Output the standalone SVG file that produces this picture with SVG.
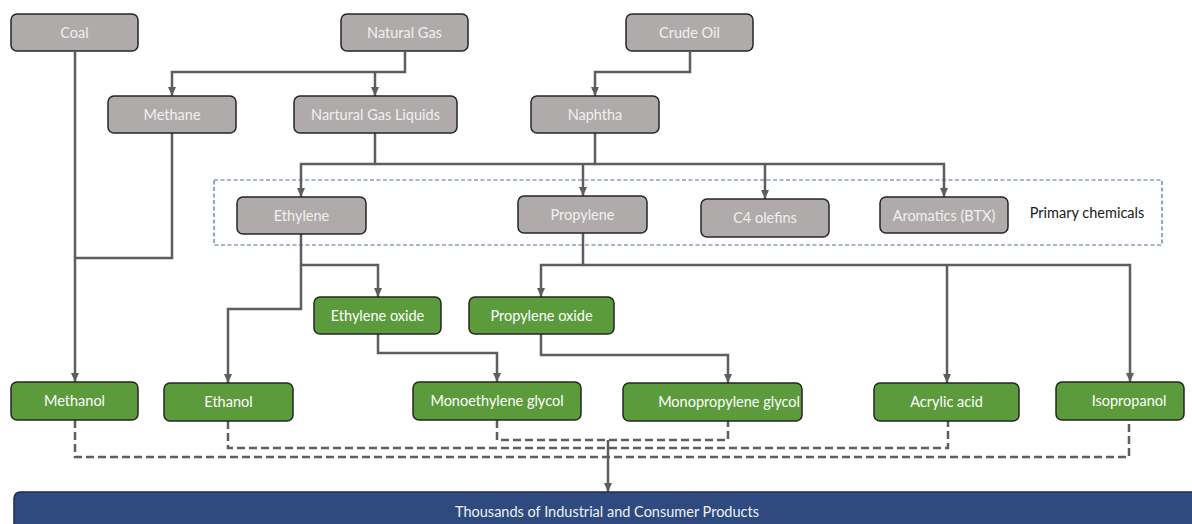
<svg xmlns="http://www.w3.org/2000/svg" width="1192" height="524" viewBox="0 0 1192 524">
<defs>
<style>
.g rect{fill:#AFABAB;stroke:#262626;stroke-width:1.5}
.gr rect{fill:#5B9B3B;stroke:#262626;stroke-width:1.5}
text{font-family:Lato,"Open Sans","Liberation Sans",sans-serif;font-size:14.5px;text-anchor:middle}
.g text{fill:#F0F0F0}
.gr text{fill:#FFFFFF}
.c path{fill:none;stroke:#5E5E5E;stroke-width:2.5}
.c path.a{marker-end:url(#ah)}
.c path.d{stroke-dasharray:8 4;stroke-width:2.5}
</style>
<marker id="ah" markerUnits="userSpaceOnUse" markerWidth="10" markerHeight="10" refX="9" refY="5" orient="auto">
<path d="M0,1 L9,5 L0,9 Z" fill="#5E5E5E"/>
</marker>
</defs>
<rect width="1192" height="524" fill="#FFFFFF"/>
<rect x="214" y="180" width="948" height="65" fill="none" stroke="#4A6AA5" stroke-width="1.2" stroke-dasharray="4 2.5"/>
<text x="1087" y="218" style="fill:#1A1A1A">Primary chemicals</text>
<g class="c">
<path class="a" d="M75 52 V382"/>
<path d="M172 133 V258 H75"/>
<path class="a" d="M405 52 V72 H172 V96"/>
<path class="a" d="M375 72 V96"/>
<path class="a" d="M690 52 V72 H595 V96"/>
<path class="a" d="M375 133 V164 H301 V197"/>
<path d="M375 164 H595"/>
<path class="a" d="M595 133 V164 H944 V197"/>
<path class="a" d="M583 164 V196"/>
<path class="a" d="M765 164 V199"/>
<path class="a" d="M301 234 V265 H378 V297"/>
<path class="a" d="M301 265 V309 H228 V383"/>
<path class="a" d="M583 233 V265 H541 V297"/>
<path class="a" d="M583 265 H1130 V382"/>
<path class="a" d="M947 265 V383"/>
<path class="a" d="M378 334 V353 H497 V382"/>
<path class="a" d="M541 334 V355 H728 V383"/>
<path class="d" d="M75 420 V457 H1129 V420"/>
<path class="d" d="M228 421 V448 H948 V421"/>
<path class="d" d="M497 420 V440 H728 V421"/>
<path class="a" d="M608 440 V492"/>
</g>
<g id="coal" class="g"><rect x="11" y="14" width="127" height="37" rx="6"/><text x="74.5" y="37.5">Coal</text></g>
<g id="natural-gas" class="g"><rect x="341" y="14" width="127" height="37" rx="6"/><text x="404.5" y="37.5">Natural Gas</text></g>
<g id="crude-oil" class="g"><rect x="626" y="14" width="127" height="37" rx="6"/><text x="689.5" y="37.5">Crude Oil</text></g>
<g id="methane" class="g"><rect x="108" y="96" width="128" height="37" rx="6"/><text x="172" y="119.5">Methane</text></g>
<g id="ngl" class="g"><rect x="294" y="96" width="163" height="37" rx="6"/><text x="375.5" y="119.5">Nartural Gas Liquids</text></g>
<g id="naphtha" class="g"><rect x="531" y="96" width="128" height="37" rx="6"/><text x="595" y="119.5">Naphtha</text></g>
<g id="ethylene" class="g"><rect x="237" y="197" width="129" height="37" rx="6"/><text x="301.5" y="220.5">Ethylene</text></g>
<g id="propylene" class="g"><rect x="518" y="196" width="129" height="37" rx="6"/><text x="582.5" y="219.5">Propylene</text></g>
<g id="c4-olefins" class="g"><rect x="701" y="199" width="128" height="38" rx="6"/><text x="765" y="223">C4 olefins</text></g>
<g id="aromatics" class="g"><rect x="880" y="197" width="128" height="36" rx="6"/><text x="944" y="220.5">Aromatics (BTX)</text></g>
<g id="ethylene-oxide" class="gr"><rect x="314" y="297" width="127" height="37" rx="6"/><text x="377.5" y="320.5">Ethylene oxide</text></g>
<g id="propylene-oxide" class="gr"><rect x="469" y="297" width="145" height="37" rx="6"/><text x="541.5" y="320.5">Propylene oxide</text></g>
<g id="methanol" class="gr"><rect x="11" y="382" width="127" height="38" rx="6"/><text x="74.5" y="405.5">Methanol</text></g>
<g id="ethanol" class="gr"><rect x="164" y="383" width="129" height="38" rx="6"/><text x="228.5" y="406.5">Ethanol</text></g>
<g id="meg" class="gr"><rect x="413" y="382" width="168" height="38" rx="6"/><text x="497" y="405.5">Monoethylene glycol</text></g>
<g id="mpg" class="gr"><rect x="623" y="383" width="179" height="38" rx="6"/><text x="729" y="406.5">Monopropylene glycol</text></g>
<g id="acrylic-acid" class="gr"><rect x="874" y="383" width="145" height="38" rx="6"/><text x="946.5" y="406.5">Acrylic acid</text></g>
<g id="isopropanol" class="gr"><rect x="1056" y="382" width="128" height="38" rx="6"/><text x="1129" y="405.5">Isopropanol</text></g>
<g id="products"><rect x="14" y="492" width="1190" height="50" rx="6" fill="#2E4A7F" stroke="#1E2E50" stroke-width="1.5"/><text x="607" y="516.5" style="fill:#EEF1F6">Thousands of Industrial and Consumer Products</text></g>
</svg>
